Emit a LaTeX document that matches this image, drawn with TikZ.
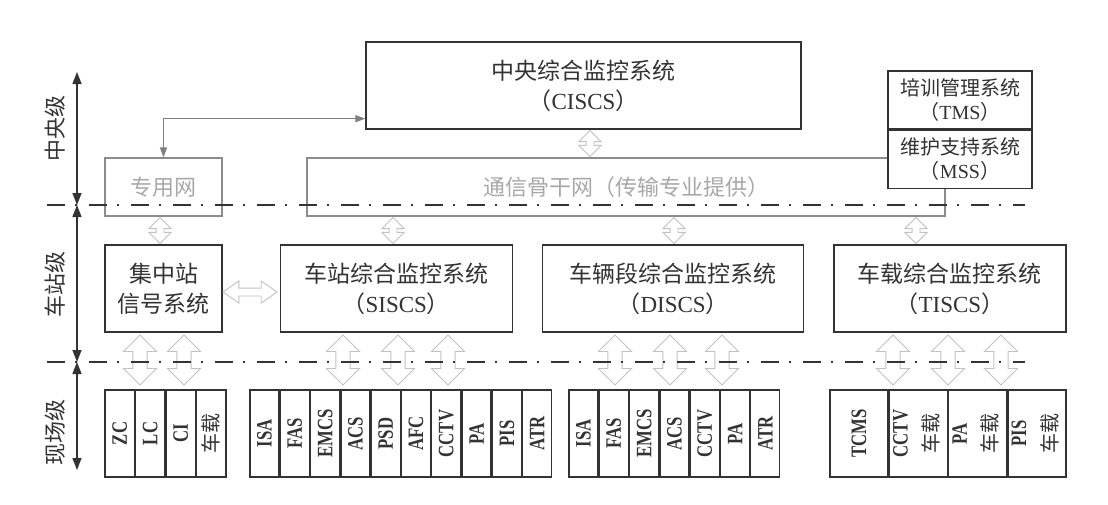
\documentclass[tikz,border=0pt]{standalone}
\usepackage{fontspec}
\usepackage{graphicx}
\setmainfont{Liberation Serif}
\newfontfamily\cjk{Noto Sans CJK SC}
\newfontfamily\cellfont[FakeStretch=0.76]{Liberation Serif}
\usetikzlibrary{arrows.meta,positioning,shapes.arrows}
\definecolor{ink}{HTML}{333333}
\definecolor{netgray}{HTML}{8C8C8C}
\definecolor{nettext}{HTML}{A8A8A8}
\definecolor{hollowgray}{HTML}{C2C2C2}
\newcommand{\sysab}[1]{（{\rmfamily #1}）}
\newcommand{\vlab}[1]{\rotatebox{90}{#1}}
\newcommand{\czlab}{{\cjk\mdseries\fontsize{20}{24}\selectfont 车载}}

\begin{document}
\begin{tikzpicture}[
  x=1pt, y=-1pt,
  box/.style={rectangle,draw=ink,line width=1.3pt,align=center,inner sep=0pt,text=ink,font=\cjk\fontsize{23}{30}\selectfont,minimum height=87pt},
  netbox/.style={rectangle,draw=netgray,line width=1.1pt,inner sep=0pt,text=nettext,font=\cjk\fontsize{22}{26}\selectfont,minimum height=58pt},
  subbox/.style={rectangle,draw=ink,fill=white,line width=1.3pt,align=center,inner sep=0pt,text=ink,font=\cjk\fontsize{20}{24}\selectfont,minimum width=144pt,minimum height=58pt},
  cell/.style={rectangle,draw=ink,line width=1.3pt,inner sep=0pt,minimum width=#1,minimum height=87pt,text=ink,font=\cellfont\bfseries\fontsize{22}{24}\selectfont},
  cell/.default=29pt,
  lvl/.style={rotate=90,text=ink,font=\cjk\fontsize{22}{26}\selectfont},
  level/.style={draw=ink,line width=2.6pt,dash pattern=on 18pt off 10pt on 2pt off 12pt},
  axis/.style={{Triangle[length=12pt,width=9pt]}-{Triangle[length=12pt,width=9pt]},draw=ink,line width=1.4pt},
  link/.style={{Triangle[length=10pt,width=7pt]}-{Triangle[length=10pt,width=7pt]},draw=gray,line width=1.2pt},
  hollow/.style={double arrow,draw=hollowgray,fill=white,line width=0.9pt,inner xsep=0pt},
  bigarr/.style={hollow,rotate=90,minimum height=50pt,minimum width=33pt,inner ysep=5pt},
  smallarr/.style={hollow,rotate=90,minimum height=26pt,minimum width=18pt,inner ysep=3.5pt}
]
\path[use as bounding box,fill=white] (0,0) rectangle (1108,504);

% central level
\node[box,minimum width=435pt] (ciscs) at (583.5,85.5) {中央综合监控系统\\\sysab{CISCS}};
\node[netbox,minimum width=117pt] (zyw) at (163.5,187) {专用网};
\node[netbox,minimum width=638pt] (net) at (626,187) {通信骨干网（传输专业提供）};
\node[subbox] (tms) at (960,100) {培训管理系统\\\sysab{TMS}};
\node[subbox,below=0pt of tms] (mss) {维护支持系统\\\sysab{MSS}};

% station level
\node[box,minimum width=117pt] (jz) at (163.5,288.5) {集中站\\信号系统};
\node[box,minimum width=232pt,right=57pt of jz] (siscs) {车站综合监控系统\\\sysab{SISCS}};
\node[box,minimum width=261pt,right=29pt of siscs] (discs) {车辆段综合监控系统\\\sysab{DISCS}};
\node[box,minimum width=232pt,right=29pt of discs] (tiscs) {车载综合监控系统\\\sysab{TISCS}};

% field level
\node[cell=29.25pt] (zc) at (119.625,433.5) {\vlab{ZC}};
\node[cell=29.25pt,right=0pt of zc] (lc) {\vlab{LC}};
\node[cell=29.25pt,right=0pt of lc] (ci) {\vlab{CI}};
\node[cell=29.25pt,right=0pt of ci] (cz) {\vlab{\czlab}};

\node[cell] (sisa) at (264.5,433.5) {\vlab{ISA}};
\node[cell,right=0pt of sisa] (sfas) {\vlab{FAS}};
\node[cell,right=0pt of sfas] (semcs) {\vlab{EMCS}};
\node[cell,right=0pt of semcs] (sacs) {\vlab{ACS}};
\node[cell,right=0pt of sacs] (spsd) {\vlab{PSD}};
\node[cell,right=0pt of spsd] (safc) {\vlab{AFC}};
\node[cell,right=0pt of safc] (scctv) {\vlab{CCTV}};
\node[cell,right=0pt of scctv] (spa) {\vlab{PA}};
\node[cell,right=0pt of spa] (spis) {\vlab{PIS}};
\node[cell,right=0pt of spis] (satr) {\vlab{ATR}};

\node[cell] (disa) at (583.5,433.5) {\vlab{ISA}};
\node[cell,right=0pt of disa] (dfas) {\vlab{FAS}};
\node[cell,right=0pt of dfas] (demcs) {\vlab{EMCS}};
\node[cell,right=0pt of demcs] (dacs) {\vlab{ACS}};
\node[cell,right=0pt of dacs] (dcctv) {\vlab{CCTV}};
\node[cell,right=0pt of dcctv] (dpa) {\vlab{PA}};
\node[cell,right=0pt of dpa] (datr) {\vlab{ATR}};

\node[cell=58pt] (ttcms) at (859,433.5) {\vlab{TCMS}};
\node[cell=58pt,right=0pt of ttcms] (tcctv) {\vlab{\begin{tabular}{@{}c@{}}CCTV\\[7pt]\czlab\end{tabular}}};
\node[cell=58pt,right=0pt of tcctv] (tpa) {\vlab{\begin{tabular}{@{}c@{}}PA\\[7pt]\czlab\end{tabular}}};
\node[cell=58pt,right=0pt of tpa] (tpis) {\vlab{\begin{tabular}{@{}c@{}}PIS\\[7pt]\czlab\end{tabular}}};

% hollow links
\node[smallarr] (a0) at (590,143.5) {};
\node[smallarr] (a1) at (160,230.5) {};
\node[smallarr] (a2) at (393,230.5) {};
\node[smallarr] (a3) at (674,230.5) {};
\node[smallarr] (a4) at (916,230.5) {};
\node[hollow,minimum height=54pt,minimum width=20pt,inner ysep=3.5pt,double arrow tip angle=70] (ah) at (250,292) {};
\node[bigarr] (b1) at (140,360) {};
\node[bigarr] (b2) at (184,360) {};
\node[bigarr] (b3) at (343,360) {};
\node[bigarr] (b4) at (398,360) {};
\node[bigarr] (b5) at (448,360) {};
\node[bigarr] (b6) at (615,360) {};
\node[bigarr] (b7) at (670,360) {};
\node[bigarr] (b8) at (722,360) {};
\node[bigarr] (b9) at (893,360) {};
\node[bigarr] (b10) at (948,360) {};
\node[bigarr] (b11) at (1001,360) {};

\draw[link] ([yshift=11pt]ciscs.south west) -| (zyw.north);

% level lines and axis
\coordinate (l1w) at (47,205);
\coordinate (l1e) at (1025,205);
\coordinate (l2w) at (47,362);
\coordinate (l2e) at (1025,362);
\draw[level] (l1w) -- (l1e);
\draw[level] (l2w) -- (l2e);

\coordinate (ax0) at (77,72);
\coordinate (ax1) at (77,205);
\coordinate (ax2) at (77,362);
\coordinate (ax3) at (77,470);
\draw[axis] (ax0) -- (ax1);
\draw[axis] (ax1) -- (ax2);
\draw[axis] (ax2) -- (ax3);

\node[lvl] (lv1) at (55,128) {中央级};
\node[lvl] (lv2) at (55,284) {车站级};
\node[lvl] (lv3) at (55,432) {现场级};
\end{tikzpicture}
\end{document}
